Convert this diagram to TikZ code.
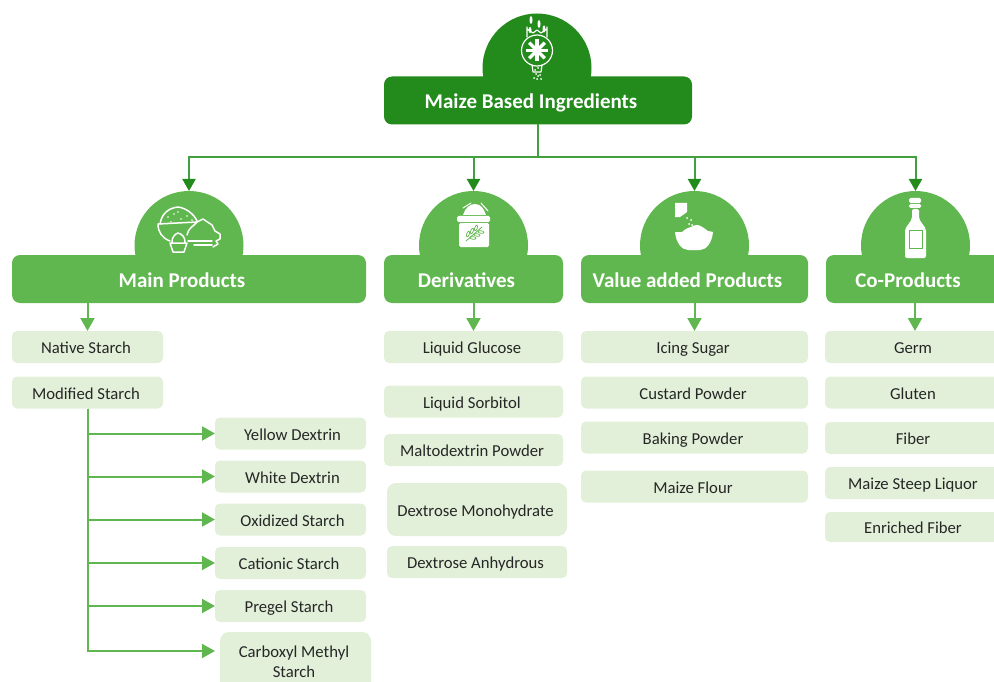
\documentclass[tikz,border=0pt]{standalone}
\usepackage{fontspec}
\setmainfont{Carlito}
\usetikzlibrary{arrows.meta}
\definecolor{rootgreen}{HTML}{228B1C}
\definecolor{headgreen}{HTML}{61B74F}
\definecolor{itemgreen}{HTML}{E2F0D9}
\definecolor{busgreen}{HTML}{43A040}
\begin{document}
\begin{tikzpicture}[
    x=1pt, y=-1pt,
    domestyle/.style={circle, fill=headgreen, minimum size=109pt, inner sep=0pt, outer sep=0pt},
    headstyle/.style={rectangle, fill=headgreen, text=white, rounded corners=8pt, minimum height=48pt, inner sep=0pt, outer sep=0pt, text height=20pt, text depth=4pt, font=\fontsize{21}{24}\selectfont\bfseries, execute at begin node={\hspace{-14pt}}},
    itemstyle/.style={rectangle, fill=itemgreen, text=black!85, rounded corners=5pt, minimum height=32pt, inner sep=0pt, outer sep=0pt, text height=17.4pt, text depth=4pt, font=\fontsize{16.7}{20}\selectfont, execute at begin node={\hspace{-3pt}}},
    itemright/.style={itemstyle, execute at begin node={\hspace*{7pt}}},
    tallstyle/.style={itemstyle, minimum width=151pt, minimum height=59pt, rounded corners=9pt, align=center, text height=, text depth=},
    busstyle/.style={draw=busgreen, line width=2pt},
    busarrow/.style={busstyle, -{Triangle[width=13pt,length=12pt,color=rootgreen]}},
    subarrow/.style={draw=headgreen, line width=2pt, -{Triangle[width=14pt,length=13pt]}},
    iconline/.style={draw=white, line width=1.5pt, line join=round, line cap=round}
]
    \clip[use as bounding box] (0,0) rectangle (994,682);

    % domes behind the heads
    \node[domestyle, fill=rootgreen] (rootdome) at (537,68) {};
    \node[domestyle] (maindome) at (189,245.5) {};
    \node[domestyle] (derivdome) at (473.5,245.5) {};
    \node[domestyle] (valuedome) at (694.5,245.5) {};
    \node[domestyle] (codome) at (915.5,245.5) {};

    % heads
    \node[headstyle, fill=rootgreen, minimum width=308pt] (rootbox) at (538,100.5) {Maize Based Ingredients};
    \node[headstyle, minimum width=354pt] (mainbox) at (189,279) {Main Products};
    \node[headstyle, minimum width=179pt] (derivbox) at (473.5,279) {Derivatives};
    \node[headstyle, minimum width=227pt] (valuebox) at (694.5,279) {Value added Products};
    \node[headstyle, minimum width=178pt] (cobox) at (915,279) {Co-Products};

    % main products
    \node[itemstyle, minimum width=151pt] (native) at (87.5,347) {Native Starch};
    \node[itemstyle, minimum width=151pt] (modified) at (87.5,392.5) {Modified Starch};
    \node[itemright, minimum width=151pt] (yellow) at (290.5,433.5) {Yellow Dextrin};
    \node[itemright, minimum width=151pt] (white) at (290.5,476.5) {White Dextrin};
    \node[itemright, minimum width=151pt] (oxidized) at (290.5,519.5) {Oxidized Starch};
    \node[itemstyle, minimum width=151pt] (cationic) at (290.5,563) {Cationic Starch};
    \node[itemstyle, minimum width=151pt] (pregel) at (290.5,606) {Pregel Starch};
    \node[tallstyle] (carboxyl) at (295.5,661.5) {Carboxyl Methyl\\Starch};

    % derivatives
    \node[itemstyle, minimum width=179pt] (glucose) at (473.5,347) {Liquid Glucose};
    \node[itemstyle, minimum width=179pt] (sorbitol) at (473.5,401.5) {Liquid Sorbitol};
    \node[itemstyle, minimum width=179pt] (malto) at (473.5,450) {Maltodextrin Powder};
    \node[itemstyle, minimum width=180pt, minimum height=53pt, rounded corners=9pt] (monohydrate) at (477,509.5) {Dextrose Monohydrate};
    \node[itemstyle, minimum width=180pt] (anhydrous) at (477,562) {Dextrose Anhydrous};

    % value added products
    \node[itemstyle, minimum width=227pt] (icing) at (694.5,347) {Icing Sugar};
    \node[itemstyle, minimum width=227pt] (custard) at (694.5,392.5) {Custard Powder};
    \node[itemstyle, minimum width=227pt] (baking) at (694.5,437.5) {Baking Powder};
    \node[itemstyle, minimum width=227pt] (flour) at (694.5,486.5) {Maize Flour};

    % co-products
    \node[itemstyle, minimum width=179pt] (germ) at (914.5,347) {Germ};
    \node[itemstyle, minimum width=179pt] (gluten) at (914.5,392.5) {Gluten};
    \node[itemstyle, minimum width=179pt] (fiber) at (914.5,438) {Fiber};
    \node[itemstyle, minimum width=179pt] (steep) at (914.5,483) {Maize Steep Liquor};
    \node[itemstyle, minimum width=179pt, minimum height=30pt] (enriched) at (914.5,527) {Enriched Fiber};

    % top bus
    \coordinate (busjoint) at (537.5,157);
    \draw[busstyle] (rootbox.south -| busjoint) -- (busjoint);
    \draw[busarrow] (busjoint) -| (maindome.north);
    \draw[busarrow] (busjoint) -| (derivdome.north);
    \draw[busarrow] (busjoint) -| (valuedome.north);
    \draw[busarrow] (busjoint) -| (codome.north);

    % heads to first items
    \draw[subarrow] (native.north |- mainbox.south) -- (native.north);
    \draw[subarrow] (derivbox.south) -- (glucose.north);
    \draw[subarrow] (valuebox.south) -- (icing.north);
    \draw[subarrow] (cobox.south) -- (germ.north -| cobox.south);

    % modified starch branches
    \coordinate (carboxylin) at (215,651);
    \draw[subarrow] (modified.south) |- (yellow.west);
    \draw[subarrow] (modified.south) |- (white.west);
    \draw[subarrow] (modified.south) |- (oxidized.west);
    \draw[subarrow] (modified.south) |- (cationic.west);
    \draw[subarrow] (modified.south) |- (pregel.west);
    \draw[subarrow] (modified.south) |- (carboxylin);

    % icon of the root
    \draw[iconline, line width=1.2pt] (537,50.5) circle (15.5);
    \foreach \a in {0,45,...,315} {
        \draw[iconline, line width=3.2pt, line cap=butt] (537,50.5) -- ++(\a:11);
    }
    \draw[iconline, line width=1.2pt] (527,37) -- (527,27) (547,37) -- (547,27) (527,29) -- (533,33) -- (537,30) -- (541,33) -- (547,29);
    \fill[white] (531,20) ellipse (1.5 and 4) (539,24) ellipse (1.5 and 4) (544,29) ellipse (1.5 and 3.5) (530,30) ellipse (1.5 and 3);
    \draw[iconline, line width=1.2pt] (532,65) -- (533,72) -- (541,72) -- (542,65);
    \foreach \dx/\dy in {535/70,538/68,536/74,540/75,534/78,537/79,541/79,538/76} {
        \fill[white] (\dx,\dy) circle (1);
    }

    % icon of main products
    \draw[iconline] (160,224) .. controls (162,212) and (170,208) .. (178,207) .. controls (186,208) and (194,214) .. (197,221);
    \draw[iconline] (158,224) -- (197,222) (158,224) .. controls (158,232) and (162,238) .. (170,241);
    \foreach \dx/\dy in {168/217,174/214,178/212,181/219,187/216,171/222,192/220} {
        \fill[white] (\dx,\dy) circle (0.8);
    }
    \draw[iconline] (187,235) .. controls (188,228) and (194,226) .. (197,222) -- (203,219) -- (212,225) -- (215,231) -- (220,234) -- (220,239) -- (216,241) -- (218,244) -- (213,247);
    \draw[iconline] (170,243) -- (187,243) -- (184,252) -- (173,252) -- cycle (172,242) .. controls (172,237) and (175,234) .. (178,233) .. controls (182,234) and (185,237) .. (185,242);
    \draw[iconline] (188,241) -- (212,241) (194,245) -- (212,245);

    % icon of derivatives
    \fill[white, rounded corners=1.5pt] (457,216) rectangle (490,222);
    \fill[white, rounded corners=1.5pt] (459,223) rectangle (489,247);
    \fill[white] (463,215) .. controls (465,208) and (470,204) .. (475,204) .. controls (481,204) and (484,209) .. (486,215) -- cycle;
    \draw[iconline, line width=1pt] (463,208) -- (471,203) (481,203) -- (488,211);
    \draw[headgreen, line width=0.8pt] (466,241) -- (482,227);
    \foreach \lx/\ly/\la in {468/234/70,472/231/70,476/228/70,473/238/-10,477/235/-10,481/232/-10} {
        \draw[headgreen, line width=0.7pt, rotate around={\la:(\lx,\ly)}] (\lx,\ly) ellipse (3 and 1.3);
    }

    % icon of value added products
    \fill[white] (675,203) -- (687,203) -- (687,212) -- (680,217) -- (675,217) -- cycle;
    \foreach \dx/\dy in {687/218,691/220,689/224,692/225} {
        \fill[white] (\dx,\dy) circle (1);
    }
    \fill[white] (675,232) .. controls (676,243) and (682,250) .. (688,250) -- (700,250) .. controls (706,250) and (712,243) .. (713,232) -- (708,231) .. controls (704,228) and (700,225) .. (697,225) .. controls (693,225) and (691,228) .. (688,228) .. controls (686,228) and (684,231) .. (682,232) -- cycle;

    % icon of co-products
    \fill[white, rounded corners=1.5pt] (909,198) rectangle (921,203);
    \fill[white, rounded corners=1.5pt] (909,204) rectangle (921,208);
    \fill[white, rounded corners=2pt] (912,209) -- (919,209) -- (919,219) -- (926,229) -- (926,258) -- (905,258) -- (905,229) -- (912,219) -- cycle;
    \draw[headgreen, line width=0.8pt, fill=white] (909,230) rectangle (922,248);
\end{tikzpicture}
\end{document}
